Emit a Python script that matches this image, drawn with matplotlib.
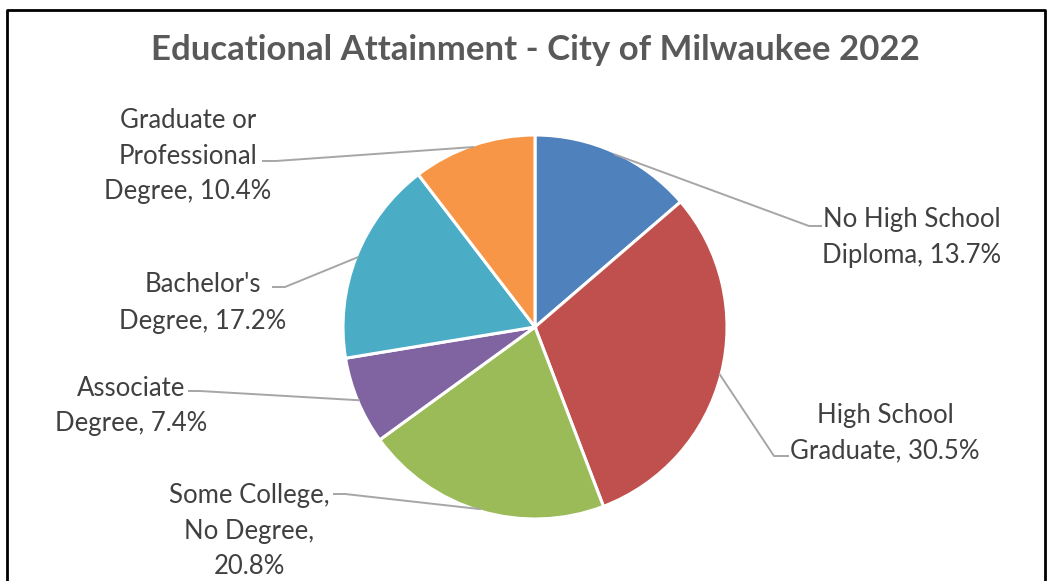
import numpy as np
import matplotlib.pyplot as plt

# Data
labels = ['No High School\nDiploma, 13.7%',
          'High School\nGraduate, 30.5%',
          'Some College,\nNo Degree,\n20.8%',
          'Associate\nDegree, 7.4%',
          "Bachelor's\nDegree, 17.2%",
          'Graduate or\nProfessional\nDegree, 10.4%']
shares = [13.7, 30.5, 20.8, 7.4, 17.2, 10.4]
colors = ['#4F81BD', '#C0504D', '#9BBB59', '#8064A2', '#4BACC6', '#F79646']

# label layout in pixels (x, y from top): text centre, elbow, end of horizontal stub
label_pos = [(912, 238), (885, 433), (249, 531), (131, 406), (203, 303), (188, 156)]
elbows = [(809, 226), (774, 456), (345, 494), (200, 391), (285, 287), (276, 161)]
stubs = [(822, 226), (789, 456), (333, 494), (188, 391), (272, 287), (262, 161)]

W, H = 1049, 581
cx, cy, R = 535, 327, 192

plt.rcParams['font.family'] = ['Lato', 'DejaVu Sans']

fig = plt.figure(figsize=(W / 100, H / 100), dpi=100)
ax = fig.add_axes([0, 0, 1, 1])

wedges, _ = ax.pie(shares, colors=colors, startangle=90, counterclock=False,
                   center=(cx, H - cy), radius=R,
                   wedgeprops=dict(edgecolor='white', linewidth=2.2))

for w, lab, (tx, ty), (ex, ey), (sx, sy) in zip(wedges, labels, label_pos, elbows, stubs):
    mid = np.deg2rad((w.theta1 + w.theta2) / 2)
    px = cx + 0.99 * R * np.cos(mid)
    py = (H - cy) + 0.99 * R * np.sin(mid)
    ax.plot([px, ex, sx], [py, H - ey, H - sy], color='#A6A6A6', lw=1.4,
            solid_capstyle='butt', zorder=1)
    ax.text(tx, H - ty, lab, ha='center', va='center', fontsize=18.5,
            color='#404040', linespacing=1.55)

ax.text(535, H - 50, 'Educational Attainment - City of Milwaukee 2022',
        ha='center', va='center', fontsize=25, fontweight='bold', color='#595959')

# chart border (cut off at the bottom)
ax.plot([7, 7, 1045, 1045], [0, H - 10, H - 10, 0], color='black', lw=2)

ax.set_xlim(0, W)
ax.set_ylim(0, H)
ax.set_aspect('auto')
ax.axis('off')

fig.savefig('out.png', dpi=100)
